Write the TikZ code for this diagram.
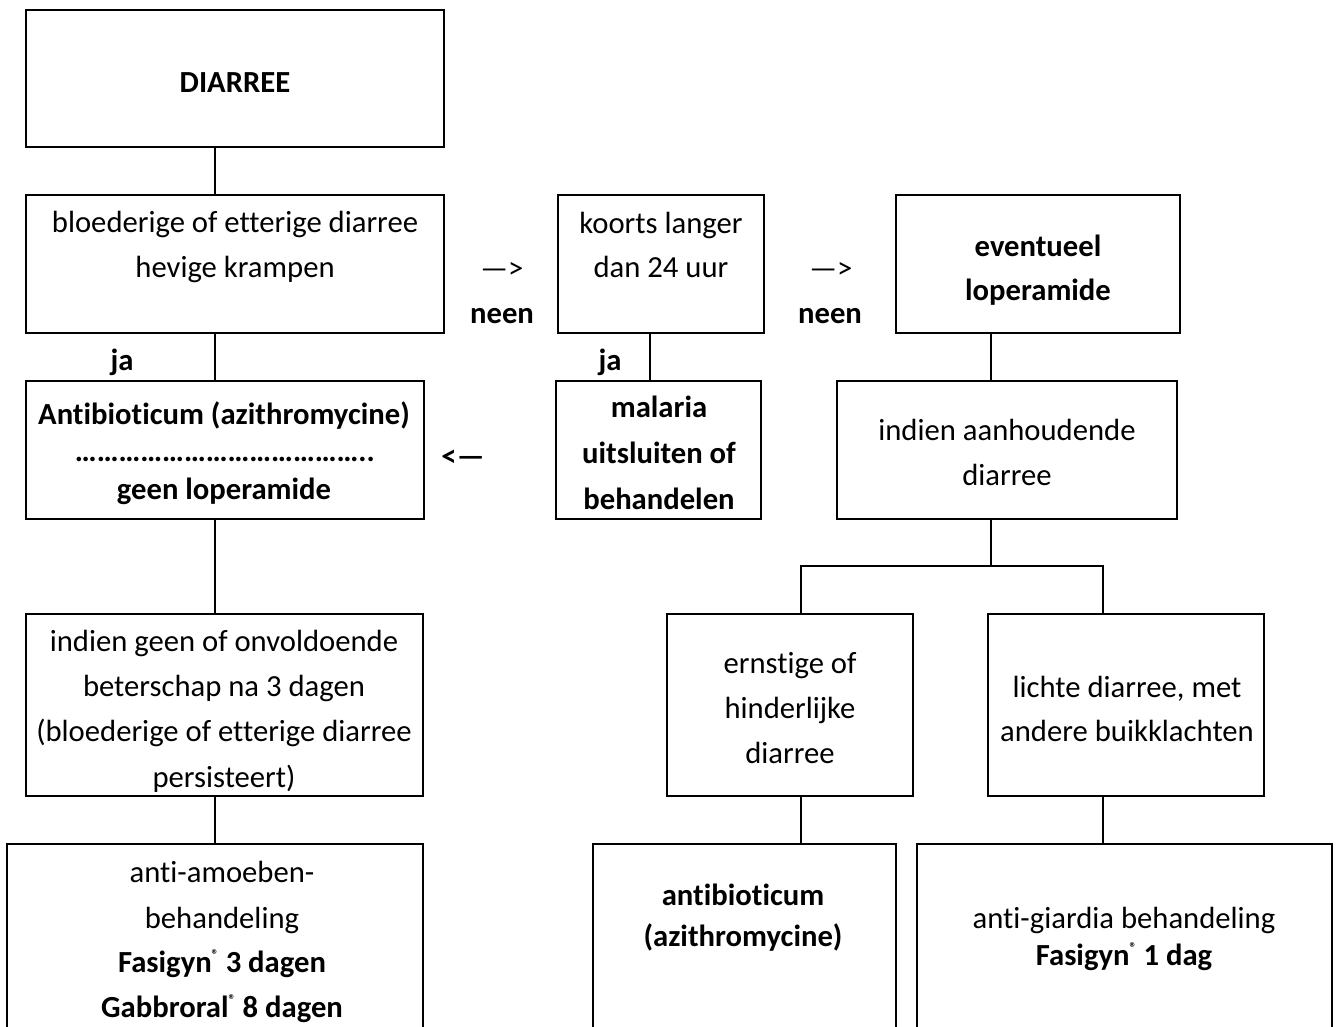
\documentclass[tikz,border=0pt]{standalone}
\usepackage{fontspec}
\setmainfont{Carlito}[Ligatures=NoCommon]
\usetikzlibrary{fit}
\tikzset{
  box/.style={draw=black, line width=1.5pt, inner sep=0pt, fit={#1}},
  conn/.style={draw=black, line width=1.5pt},
  txt/.style={anchor=base, inner sep=0pt, font=\fontsize{23pt}{27pt}\selectfont},
  btxt/.style={anchor=base, inner sep=0pt, font=\fontsize{23pt}{27pt}\selectfont\bfseries},
}
\newcommand{\regmark}{\raisebox{9.5pt}{\fontsize{10.5pt}{10.5pt}\selectfont ®}}
\begin{document}
\begin{tikzpicture}[x=0.75pt,y=-0.75pt]
\useasboundingbox (0,0) rectangle (1338,1026);
\clip (0,0) rectangle (1338,1026);
% boxes
\node[box={(26,10) (444,147)}] (diarree) {};
\node[box={(26,195) (444,333)}] (bloed) {};
\node[box={(26,381) (424,519)}] (anti) {};
\node[box={(26,614) (423,796)}] (geen) {};
\node[box={(7,844) (423,1040)}] (amoeb) {};
\node[box={(558,195) (764,333)}] (koorts) {};
\node[box={(556,381) (761,519)}] (malaria) {};
\node[box={(896,195) (1180,333)}] (event) {};
\node[box={(837,381) (1177,519)}] (aanh) {};
\node[box={(667,614) (913,796)}] (ernst) {};
\node[box={(988,614) (1264,796)}] (licht) {};
\node[box={(593,844) (896,1040)}] (abio) {};
\node[box={(917,844) (1332,1040)}] (giard) {};
% connector columns
\coordinate (cL) at (215,0);
\coordinate (cM) at (650,0);
\coordinate (cR) at (991,0);
\coordinate (cE) at (801,0);
\coordinate (cG) at (1103,0);
\coordinate (split) at (991,566);
\draw[conn] (diarree.south -| cL) -- (bloed.north -| cL);
\draw[conn] (bloed.south -| cL) -- (anti.north -| cL);
\draw[conn] (anti.south -| cL) -- (geen.north -| cL);
\draw[conn] (geen.south -| cL) -- (amoeb.north -| cL);
\draw[conn] (koorts.south -| cM) -- (malaria.north -| cM);
\draw[conn] (event.south -| cR) -- (aanh.north -| cR);
\draw[conn] (aanh.south -| cR) -- (split);
\draw[conn] (ernst.north -| cE) -- (split -| cE) -- (split -| cG) -- (licht.north -| cG);
\draw[conn] (ernst.south -| cE) -- (abio.north -| cE);
\draw[conn] (licht.south -| cG) -- (giard.north -| cG);
% texts
\node[btxt] (t1) at (235,92) {DIARREE};
\node[txt] (t2a) at (235,232) {bloederige of etterige diarree};
\node[txt] (t2b) at (235,277) {hevige krampen};
\node[btxt] (ja1) at (122,370) {ja};
\node[btxt] (t3a) at (224,424) {Antibioticum (azithromycine)};
\node[btxt] (t3b) at (225,461) {…………………………………..};
\node[btxt] (t3c) at (224,499) {geen loperamide};
\node[txt] (t4a) at (224,651) {indien geen of onvoldoende};
\node[txt] (t4b) at (224,696) {beterschap na 3 dagen};
\node[txt] (t4c) at (224,741) {(bloederige of etterige diarree};
\node[txt] (t4d) at (224,787) {persisteert)};
\node[txt] (t5a) at (222,882) {anti-amoeben-};
\node[txt] (t5b) at (222,928) {behandeling};
\node[btxt] (t5c) at (222,972) {Fasigyn\regmark{} 3 dagen};
\node[btxt] (t5d) at (222,1017) {Gabbroral\regmark{} 8 dagen};
\node[txt] (k1) at (661,233) {koorts langer};
\node[txt] (k2) at (661,277) {dan 24 uur};
\node[btxt] (ja2) at (610,370) {ja};
\node[txt] (arr1) at (502,278) {—>};
\node[btxt] (neen1) at (502,323) {neen};
\node[txt] (arr2) at (831,278) {—>};
\node[btxt] (neen2) at (830,323) {neen};
\node[btxt] (m1) at (659,417) {malaria};
\node[btxt] (m2) at (659,463) {uitsluiten of};
\node[btxt] (m3) at (659,509) {behandelen};
\node[btxt] (arr3) at (463,466) {<—};
\node[btxt] (e1) at (1038,256) {eventueel};
\node[btxt] (e2) at (1038,300) {loperamide};
\node[txt] (a1) at (1007,440) {indien aanhoudende};
\node[txt] (a2) at (1007,485) {diarree};
\node[txt] (r1) at (790,673) {ernstige of};
\node[txt] (r2) at (790,718) {hinderlijke};
\node[txt] (r3) at (790,763) {diarree};
\node[txt] (l1) at (1127,697) {lichte diarree, met};
\node[txt] (l2) at (1127,741) {andere buikklachten};
\node[btxt] (b1) at (743,905) {antibioticum};
\node[btxt] (b2) at (743,946) {(azithromycine)};
\node[txt] (g1) at (1124,928) {anti-giardia behandeling};
\node[btxt] (g2) at (1124,965) {Fasigyn\regmark{} 1 dag};
\end{tikzpicture}
\end{document}
